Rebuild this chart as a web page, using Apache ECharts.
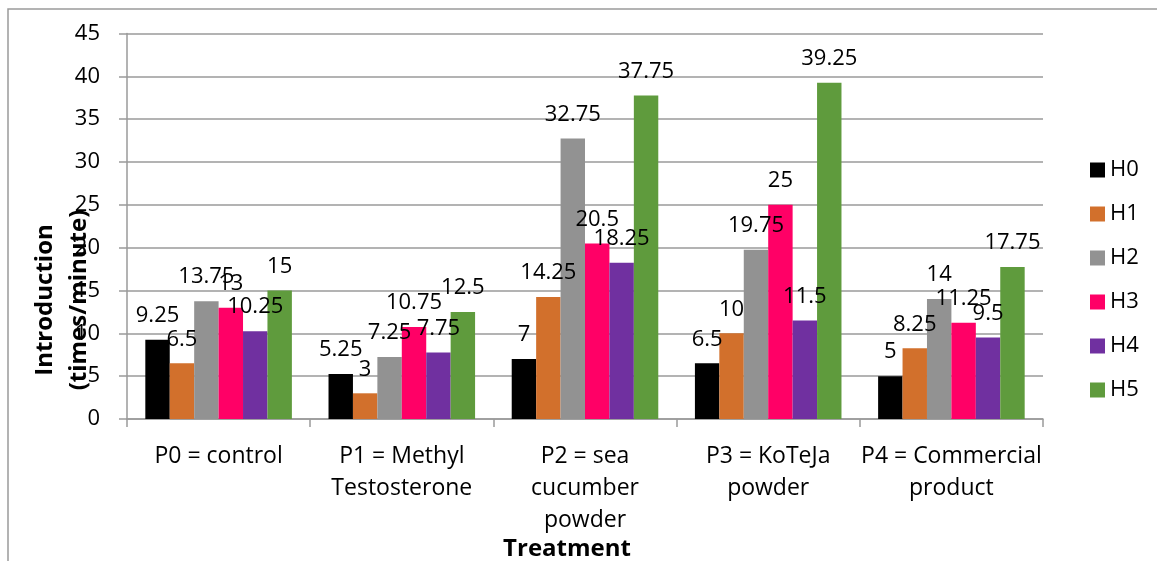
<!DOCTYPE html>
<html>
<head>
<meta charset="utf-8">
<script src="https://cdn.jsdelivr.net/npm/echarts@6/dist/echarts.min.js"></script>
<style>
  html, body { margin: 0; padding: 0; background: #fff; }
  #chart { width: 1157px; height: 561px; }
</style>
</head>
<body>
<div id="chart"></div>
<script>
    // data
    const categories = ['P0 = control', 'P1 = Methyl\nTestosterone', 'P2 = sea\ncucumber\npowder', 'P3 = KoTeJa\npowder', 'P4 = Commercial\nproduct'];
    const seriesNames = ['H0', 'H1', 'H2', 'H3', 'H4', 'H5'];
    const h0 = [9.25, 5.25, 7, 6.5, 5];
    const h1 = [6.5, 3, 14.25, 10, 8.25];
    const h2 = [13.75, 7.25, 32.75, 19.75, 14];
    const h3 = [13, 10.75, 20.5, 25, 11.25];
    const h4 = [10.25, 7.75, 18.25, 11.5, 9.5];
    const h5 = [15, 12.5, 37.75, 39.25, 17.75];
    const values = [h0, h1, h2, h3, h4, h5];
    const colors = ['#000000', '#D2702C', '#929292', '#FF0066', '#7030A0', '#5F9B3D'];

    const font = '"Open Sans", sans-serif';

    let chart = echarts.init(document.getElementById('chart'));
    chart.setOption({
        animation: false,
        color: colors,
        textStyle: { fontFamily: font },
        grid: {
            left: 127,
            right: 114,
            top: 33.5,
            bottom: 142
        },
        legend: {
            orient: 'vertical',
            left: 1085,
            top: 154,
            itemWidth: 15,
            itemHeight: 15,
            itemGap: 22,
            icon: 'rect',
            textStyle: { fontSize: 22, color: '#000', fontFamily: font },
            data: seriesNames
        },
        xAxis: {
            type: 'category',
            data: categories,
            axisLine: { lineStyle: { color: '#9a9a9a', width: 1.5 } },
            axisTick: { show: true, length: 8, lineStyle: { color: '#9a9a9a', width: 1.5 } },
            axisLabel: {
                color: '#000',
                fontSize: 23,
                lineHeight: 32,
                margin: 21,
                interval: 0,
                fontFamily: font
            }
        },
        yAxis: {
            type: 'value',
            min: 0,
            max: 45,
            interval: 5,
            axisLine: { show: true, lineStyle: { color: '#9a9a9a', width: 1.5 } },
            axisTick: { show: true, length: 8, lineStyle: { color: '#9a9a9a', width: 1.5 } },
            splitLine: { lineStyle: { color: '#9a9a9a', width: 1.5 } },
            axisLabel: { color: '#000', fontSize: 22, margin: 27, fontFamily: font }
        },
        graphic: [
            {
                type: 'rect',
                shape: { x: 8, y: 9, width: 1200, height: 600 },
                style: { fill: 'none', stroke: '#9a9a9a', lineWidth: 1.5 },
                z: -10
            },
            {
                type: 'text',
                x: 62,
                y: 300,
                rotation: Math.PI / 2,
                style: {
                    text: 'Introduction\n(times/minute)',
                    fontSize: 24,
                    fontWeight: 'bold',
                    fontFamily: font,
                    lineHeight: 34,
                    fill: '#000',
                    align: 'center',
                    verticalAlign: 'middle'
                },
                z: 100
            },
            {
                type: 'text',
                x: 567,
                y: 549,
                style: {
                    text: 'Treatment',
                    fontSize: 24,
                    fontWeight: 'bold',
                    fontFamily: font,
                    fill: '#000',
                    align: 'center',
                    verticalAlign: 'middle'
                }
            }
        ],
        series: seriesNames.map(function (name, i) {
            return {
                name: name,
                type: 'bar',
                barGap: '0%',
                barCategoryGap: '20%',
                data: values[i],
                label: {
                    show: true,
                    position: 'top',
                    distance: 13,
                    color: '#000',
                    fontSize: 22,
                    fontFamily: font
                }
            };
        })
    });
</script>
</body>
</html>
